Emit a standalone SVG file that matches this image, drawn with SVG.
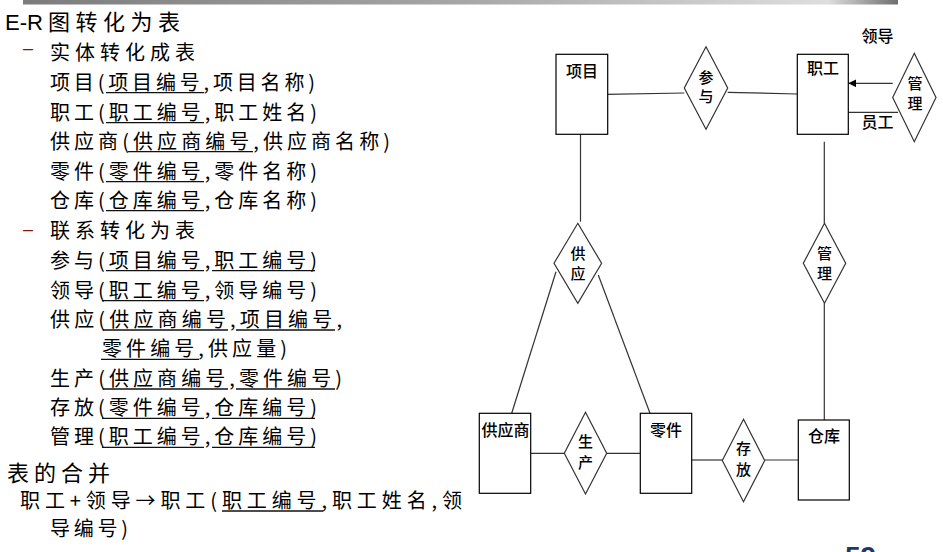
<svg xmlns="http://www.w3.org/2000/svg" width="943" height="552" viewBox="0 0 943 552">
<defs>
<linearGradient id="bar" x1="0" y1="0" x2="1" y2="0">
<stop offset="0" stop-color="#7c7c7c"/>
<stop offset="0.5" stop-color="#a6a6a6"/>
<stop offset="0.92" stop-color="#dedede"/>
<stop offset="1" stop-color="#6e6e6e"/>
</linearGradient>
<marker id="arr" viewBox="0 0 10 10" refX="10" refY="5" markerWidth="8" markerHeight="8" markerUnits="userSpaceOnUse" orient="auto">
<path d="M0,0 L10,5 L0,10 z" fill="#000"/>
</marker>
<style>
.t{font-family:"Noto Sans CJK SC","Noto Sans CJK TC",sans-serif;font-size:20px;fill:#000;}
.h{font-family:"Noto Sans CJK SC",sans-serif;font-size:22px;fill:#000;}
.ul{stroke:#111;stroke-width:1.3;}
.dash{font-family:"Liberation Sans",sans-serif;font-size:18px;fill:#8b1010;}
.box{fill:#fff;stroke:#000;stroke-width:1.2;}
.dia{fill:#fff;stroke:#333;stroke-width:1.2;}
.lbl{font-family:"Noto Sans CJK SC",sans-serif;font-size:16px;font-weight:500;fill:#000;text-anchor:middle;}
.dl{font-family:"Noto Sans CJK SC",sans-serif;font-size:15px;font-weight:500;fill:#000;text-anchor:middle;}
.con{stroke:#333;stroke-width:1.2;fill:none;}
</style>
</defs>
<rect width="943" height="552" fill="#fff"/>
<rect x="23" y="0" width="875" height="4.5" fill="url(#bar)"/>

<g id="left-text">
<text x="5" y="29.5" font-family="Liberation Sans, sans-serif" font-size="22" fill="#000" textLength="38" lengthAdjust="spacingAndGlyphs">E-R</text>
<text class="h" x="48" y="29.5" textLength="132" lengthAdjust="spacing">图转化为表</text>
<text class="dash" x="23" y="54">–</text>
<text class="t" x="50" y="60" textLength="145" lengthAdjust="spacing">实体转化成表</text>
<text class="t" x="50" y="90" textLength="265" lengthAdjust="spacing">项目(项目编号,项目名称)</text>
<text class="t" x="50" y="120" textLength="267" lengthAdjust="spacing">职工(职工编号,职工姓名)</text>
<text class="t" x="50" y="149" textLength="340" lengthAdjust="spacing">供应商(供应商编号,供应商名称)</text>
<text class="t" x="50" y="179" textLength="267" lengthAdjust="spacing">零件(零件编号,零件名称)</text>
<text class="t" x="50" y="208" textLength="267" lengthAdjust="spacing">仓库(仓库编号,仓库名称)</text>
<text class="dash" x="23" y="235">–</text>
<text class="t" x="50" y="238" textLength="145" lengthAdjust="spacing">联系转化为表</text>
<text class="t" x="50" y="268" textLength="267" lengthAdjust="spacing">参与(项目编号,职工编号)</text>
<text class="t" x="50" y="298" textLength="267" lengthAdjust="spacing">领导(职工编号,领导编号)</text>
<text class="t" x="50" y="327" textLength="292" lengthAdjust="spacing">供应(供应商编号,项目编号,</text>
<text class="t" x="102" y="356" textLength="185" lengthAdjust="spacing">零件编号,供应量)</text>
<text class="t" x="50" y="386" textLength="292" lengthAdjust="spacing">生产(供应商编号,零件编号)</text>
<text class="t" x="50" y="415" textLength="267" lengthAdjust="spacing">存放(零件编号,仓库编号)</text>
<text class="t" x="50" y="444" textLength="267" lengthAdjust="spacing">管理(职工编号,仓库编号)</text>
<text class="h" x="7" y="481" textLength="103" lengthAdjust="spacing">表的合并</text>
<text class="t" x="20" y="508" font-size="18" textLength="442" lengthAdjust="spacing">职工+领导→职工(职工编号,职工姓名,领</text>
<text class="t" x="50" y="536" font-size="18" textLength="78" lengthAdjust="spacing">导编号)</text>
</g>

<g id="underlines">
<line class="ul" x1="106" y1="92.7" x2="204" y2="92.7"/>
<line class="ul" x1="106" y1="122.7" x2="204" y2="122.7"/>
<line class="ul" x1="128" y1="151.7" x2="253" y2="151.7"/>
<line class="ul" x1="106" y1="181.7" x2="204" y2="181.7"/>
<line class="ul" x1="106" y1="210.7" x2="204" y2="210.7"/>
<line class="ul" x1="106" y1="270.7" x2="204" y2="270.7"/>
<line class="ul" x1="212" y1="270.7" x2="315" y2="270.7"/>
<line class="ul" x1="102" y1="300.7" x2="204" y2="300.7"/>
<line class="ul" x1="103" y1="330" x2="228" y2="330"/>
<line class="ul" x1="236" y1="330" x2="335" y2="330"/>
<line class="ul" x1="101" y1="359.3" x2="199" y2="359.3"/>
<line class="ul" x1="103" y1="389" x2="228" y2="389"/>
<line class="ul" x1="236" y1="389" x2="335" y2="389"/>
<line class="ul" x1="102" y1="418.3" x2="204" y2="418.3"/>
<line class="ul" x1="212" y1="418.3" x2="315" y2="418.3"/>
<line class="ul" x1="102" y1="447.3" x2="204" y2="447.3"/>
<line class="ul" x1="212" y1="447.3" x2="315" y2="447.3"/>
<line class="ul" x1="222" y1="511" x2="323" y2="511"/>
</g>

<g id="connectors">
<line class="con" x1="606" y1="94.3" x2="684.3" y2="93"/>
<line class="con" x1="727.7" y1="92.3" x2="797.3" y2="94"/>
<line class="con" x1="892.7" y1="83.3" x2="848.3" y2="83.3" stroke="#000" marker-end="url(#arr)"/>
<line class="con" x1="848.3" y1="112.3" x2="898" y2="112.3" stroke="#000"/>
<line class="con" x1="580.5" y1="134.3" x2="580.5" y2="221.7" stroke="#000"/>
<line class="con" x1="824.3" y1="141.7" x2="824.3" y2="223.3" stroke="#000"/>
<line class="con" x1="824.3" y1="303.3" x2="824.3" y2="420" stroke="#000"/>
<line class="con" x1="556" y1="271.7" x2="511.7" y2="413.3"/>
<line class="con" x1="598.3" y1="275" x2="650" y2="413.3"/>
<line class="con" x1="530.7" y1="453.3" x2="564.3" y2="453.3" stroke="#000"/>
<line class="con" x1="606.7" y1="453.3" x2="640.3" y2="453.3" stroke="#000"/>
<line class="con" x1="691.7" y1="460" x2="722.3" y2="460" stroke="#000"/>
<line class="con" x1="764.7" y1="460" x2="798.3" y2="460" stroke="#000"/>
</g>

<g id="node-xiangmu">
<rect class="box" x="556" y="54.3" width="51.7" height="80"/>
<text class="lbl" x="582" y="77">项目</text>
</g>
<g id="node-canyu">
<polygon class="dia" points="706,46.7 727.7,88 706,129.3 684.3,88"/>
<text class="dl" x="706" y="82.5">参<tspan x="706" y="102">与</tspan></text>
</g>
<g id="node-zhigong">
<rect class="box" x="797.3" y="54.3" width="51" height="80"/>
<text class="lbl" x="823" y="74">职工</text>
</g>
<g id="label-lingdao">
<text class="lbl" x="877.5" y="42" font-size="15">领导</text>
</g>
<g id="label-yuangong">
<text class="lbl" x="877.5" y="128" font-size="15">员工</text>
</g>
<g id="node-guanli-top">
<polygon class="dia" points="914.3,53.3 936,97.5 914.3,141.7 892.7,97.5"/>
<text class="dl" x="915" y="88.5">管<tspan x="915" y="108.5">理</tspan></text>
</g>
<g id="node-gongying">
<polygon class="dia" points="577.8,223.3 601.6,263.3 577.8,303.3 554,263.3"/>
<text class="dl" x="578" y="259">供<tspan x="578" y="279">应</tspan></text>
</g>
<g id="node-guanli">
<polygon class="dia" points="824.5,223.3 845.7,263.3 824.5,303.3 803.3,263.3"/>
<text class="dl" x="824.5" y="258.5">管<tspan x="824.5" y="278.5">理</tspan></text>
</g>
<g id="node-gongyingshang">
<rect class="box" x="479.3" y="413.3" width="51.4" height="80"/>
<text class="lbl" x="505.5" y="435.5">供应商</text>
</g>
<g id="node-shengchan">
<polygon class="dia" points="585.5,412.3 606.7,453.2 585.5,494 564.3,453.2"/>
<text class="dl" x="585.5" y="447">生<tspan x="585.5" y="468">产</tspan></text>
</g>
<g id="node-lingjian">
<rect class="box" x="640.3" y="413.3" width="51.4" height="80"/>
<text class="lbl" x="666" y="435.5">零件</text>
</g>
<g id="node-cunfang">
<polygon class="dia" points="743.5,419.3 764.7,460.5 743.5,501.7 722.3,460.5"/>
<text class="dl" x="743.5" y="454">存<tspan x="743.5" y="475">放</tspan></text>
</g>
<g id="node-cangku">
<rect class="box" x="798.3" y="420" width="51" height="80"/>
<text class="lbl" x="824" y="442">仓库</text>
</g>

<text x="845" y="566" font-family="Liberation Sans, sans-serif" font-weight="bold" font-size="28" fill="#1f3864">59</text>
</svg>
